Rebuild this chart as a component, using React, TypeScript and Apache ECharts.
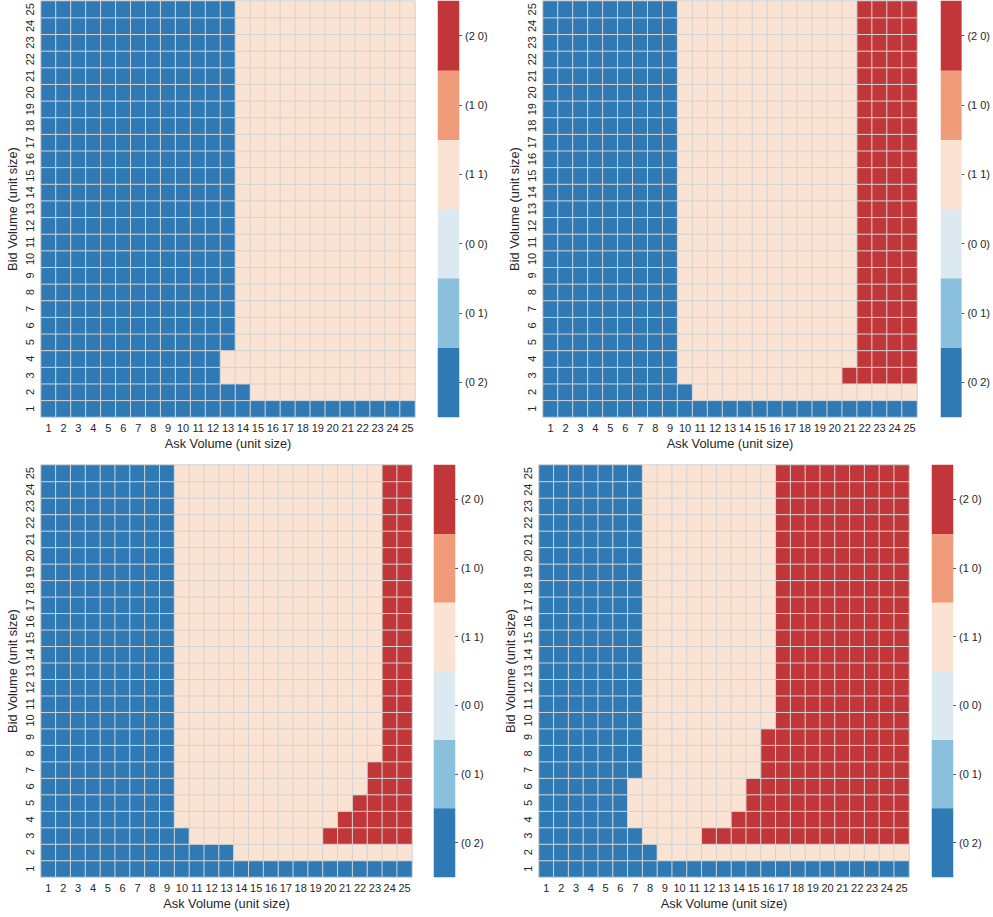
import React, { useEffect, useRef } from "react";
import * as echarts from "echarts";

// Tick labels
const askLabels = Array.from({ length: 25 }, (_, i) => String(i + 1));
const bidLabels = Array.from({ length: 25 }, (_, i) => String(i + 1));
// Colorbar categories, bottom to top
const classLabels = ["(0 2)", "(0 1)", "(0 0)", "(1 1)", "(1 0)", "(2 0)"];
const classColors = ["#2f79b5", "#8ac0db", "#dce9f1", "#fbe3d4", "#f09c7b", "#c13639"];

// Per bid-volume row (1..25): number of leading (0 2) cells and trailing (2 0) cells; rest is (1 1)
const p1Blue = [25, 14, 12, 12, 13, 13, 13, 13, 13, 13, 13, 13, 13, 13, 13, 13, 13, 13, 13, 13, 13, 13, 13, 13, 13];
const p1Red = [0, 0, 0, 0, 0, 0, 0, 0, 0, 0, 0, 0, 0, 0, 0, 0, 0, 0, 0, 0, 0, 0, 0, 0, 0];
const p2Blue = [25, 10, 9, 9, 9, 9, 9, 9, 9, 9, 9, 9, 9, 9, 9, 9, 9, 9, 9, 9, 9, 9, 9, 9, 9];
const p2Red = [0, 0, 5, 4, 4, 4, 4, 4, 4, 4, 4, 4, 4, 4, 4, 4, 4, 4, 4, 4, 4, 4, 4, 4, 4];
const p3Blue = [25, 13, 10, 9, 9, 9, 9, 9, 9, 9, 9, 9, 9, 9, 9, 9, 9, 9, 9, 9, 9, 9, 9, 9, 9];
const p3Red = [0, 0, 6, 5, 4, 3, 3, 2, 2, 2, 2, 2, 2, 2, 2, 2, 2, 2, 2, 2, 2, 2, 2, 2, 2];
const p4Blue = [25, 8, 7, 6, 6, 6, 7, 7, 7, 7, 7, 7, 7, 7, 7, 7, 7, 7, 7, 7, 7, 7, 7, 7, 7];
const p4Red = [0, 0, 14, 12, 11, 11, 10, 10, 10, 9, 9, 9, 9, 9, 9, 9, 9, 9, 9, 9, 9, 9, 9, 9, 9];

const panels = [
  { blue: p1Blue, red: p1Red },
  { blue: p2Blue, red: p2Red },
  { blue: p3Blue, red: p3Red },
  { blue: p4Blue, red: p4Red },
];

function buildData(blue: number[], red: number[]) {
  const out: number[][] = [];
  for (let r = 0; r < 25; r++) {
    for (let c = 0; c < 25; c++) {
      let v = 3;
      if (c < blue[r]) v = 0;
      else if (c >= 25 - red[r]) v = 5;
      out.push([c, r, v]);
    }
  }
  return out;
}

const FONT = "'Liberation Sans', Arial, sans-serif";
const TXT = "#262626";

const heatGrids = [
  { left: 41, top: 1, width: 374, height: 416 },
  { left: 543, top: 1, width: 374, height: 416 },
  { left: 41, top: 465, width: 371, height: 412 },
  { left: 539, top: 465, width: 370, height: 412 },
];
const barGrids = [
  { left: 438, top: 1, width: 21, height: 416 },
  { left: 941, top: 1, width: 21, height: 416 },
  { left: 434, top: 465, width: 21, height: 412 },
  { left: 932, top: 465, width: 21, height: 412 },
];

export default function App() {
  const ref = useRef<HTMLDivElement>(null);
  useEffect(() => {
    if (!ref.current) return;
    const chart = echarts.init(ref.current, null, { renderer: "svg" });
    const grid: any[] = [];
    const xAxis: any[] = [];
    const yAxis: any[] = [];
    const series: any[] = [];
    heatGrids.forEach((g, i) => {
      grid.push({ ...g });
      xAxis.push({
        type: "category",
        gridIndex: i,
        data: askLabels,
        name: "Ask Volume (unit size)",
        nameLocation: "middle",
        nameGap: 20,
        nameTextStyle: { fontSize: 12.8, color: TXT, fontFamily: FONT },
        axisLine: { show: false },
        axisTick: { show: false },
        splitLine: { show: false },
        axisLabel: { interval: 0, fontSize: 11, color: TXT, fontFamily: FONT, margin: 5 },
      });
      yAxis.push({
        type: "category",
        gridIndex: i,
        data: bidLabels,
        name: "Bid Volume (unit size)",
        nameLocation: "middle",
        nameGap: 22,
        nameRotate: 90,
        nameTextStyle: { fontSize: 12.8, color: TXT, fontFamily: FONT },
        axisLine: { show: false },
        axisTick: { show: false },
        splitLine: { show: false },
        axisLabel: { interval: 0, rotate: 90, fontSize: 11, color: TXT, fontFamily: FONT, margin: 6 },
      });
      series.push({
        type: "heatmap",
        xAxisIndex: i,
        yAxisIndex: i,
        data: buildData(panels[i].blue, panels[i].red),
        itemStyle: { borderColor: "#d3d3d3", borderWidth: 1 },
        emphasis: { disabled: true },
      });
    });
    barGrids.forEach((g, j) => {
      const idx = 4 + j;
      grid.push({ ...g });
      xAxis.push({
        type: "category",
        gridIndex: idx,
        data: ["c"],
        axisLine: { show: false },
        axisTick: { show: false },
        axisLabel: { show: false },
        splitLine: { show: false },
      });
      yAxis.push({
        type: "category",
        gridIndex: idx,
        position: "right",
        data: classLabels,
        axisLine: { show: false },
        axisTick: { show: true, length: 3, lineStyle: { color: "#555" }, alignWithLabel: true },
        splitLine: { show: false },
        axisLabel: { fontSize: 11, color: TXT, fontFamily: FONT, margin: 6 },
      });
      series.push({
        type: "heatmap",
        xAxisIndex: idx,
        yAxisIndex: idx,
        data: classLabels.map((_, k) => [0, k, k]),
        itemStyle: { borderWidth: 0 },
        emphasis: { disabled: true },
      });
    });
    chart.setOption({
      animation: false,
      backgroundColor: "#ffffff",
      grid,
      xAxis,
      yAxis,
      visualMap: {
        type: "piecewise",
        show: false,
        dimension: 2,
        seriesIndex: series.map((_, i) => i),
        pieces: classColors.map((c, k) => ({ value: k, color: c })),
      },
      series,
    });
    return () => chart.dispose();
  }, []);
  return (
    <div
      ref={ref}
      style={{ position: "fixed", left: 0, top: 0, width: 993, height: 917, background: "#fff" }}
    />
  );
}
